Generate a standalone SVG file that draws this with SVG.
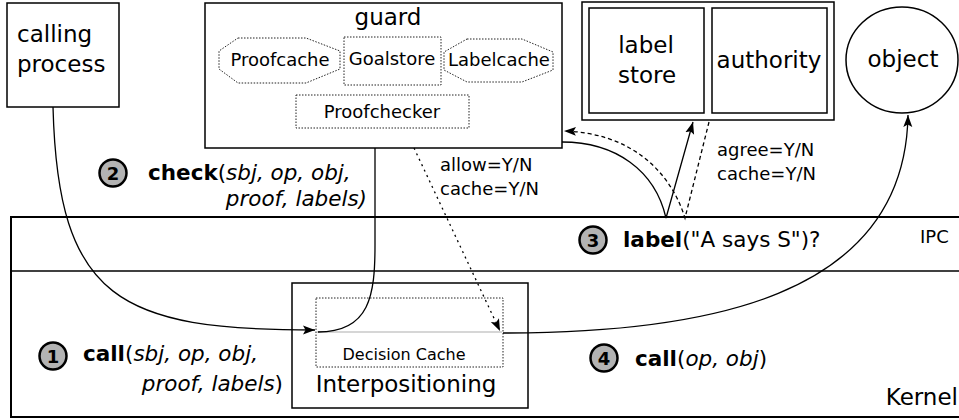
<svg xmlns="http://www.w3.org/2000/svg" width="959" height="420" viewBox="0 0 959 420">
<defs>
<style>
text{font-family:"DejaVu Sans","Liberation Sans",sans-serif;fill:#000}
.box{fill:#fff;stroke:#000;stroke-width:1.5}
.dot{fill:none;stroke:#222;stroke-width:1;stroke-dasharray:1.5,1.5}
.ln{fill:none;stroke:#000;stroke-width:1.3}
.badge{fill:#b3b3b3;stroke:#000;stroke-width:2.5}
.num{font-weight:bold;font-size:18px;text-anchor:middle}
.lbl{font-size:21.5px}
.b{font-weight:bold}
.i{font-style:italic}
.big{font-size:23px}
.mid{font-size:18px}
</style>
<marker id="ah" markerUnits="userSpaceOnUse" markerWidth="14" markerHeight="10" refX="12" refY="5" orient="auto">
<path d="M0,0.5 L12,5 L0,9.5 L2.5,5 Z" fill="#000"/>
</marker>
</defs>

<g id="kernel">
<rect x="11" y="217" width="960" height="200" fill="#fff" stroke="#000" stroke-width="2"/>
<line x1="11" y1="271" x2="959" y2="271" stroke="#000" stroke-width="1.3"/>
<text x="920" y="243" class="mid">IPC</text>
<text x="958" y="405" class="big" text-anchor="end">Kernel</text>
</g>

<g id="calling-process">
<rect x="7" y="3" width="112" height="104" class="box"/>
<text x="17" y="42" class="big">calling</text>
<text x="17" y="72" class="big">process</text>
</g>

<g id="guard">
<rect x="205" y="3" width="357" height="145" class="box"/>
<text x="388" y="25" class="big" text-anchor="middle">guard</text>
<polygon points="238,38 306,38 340,51 340,69 306,83 238,83 219,69 219,51" class="dot"/>
<text x="280" y="66" class="mid" text-anchor="middle">Proofcache</text>
<rect x="344" y="37" width="97" height="48" class="dot"/>
<text x="392" y="65" class="mid" text-anchor="middle">Goalstore</text>
<polygon points="467,39 522,39 553,52 553,70 522,82 467,82 444,70 444,52" class="dot"/>
<text x="499" y="66" class="mid" text-anchor="middle">Labelcache</text>
<rect x="296" y="95" width="173" height="33" class="dot"/>
<text x="382" y="118" class="mid" text-anchor="middle">Proofchecker</text>
</g>

<g id="label-store-authority">
<rect x="582" y="2" width="252" height="118" class="box"/>
<rect x="589" y="8" width="115" height="105" class="box"/>
<rect x="712" y="8" width="115" height="105" class="box"/>
<text x="646" y="53" class="big" text-anchor="middle">label</text>
<text x="647" y="83" class="big" text-anchor="middle">store</text>
<text x="769" y="68" class="big" text-anchor="middle">authority</text>
</g>

<g id="object">
<ellipse cx="902" cy="60" rx="56" ry="53" class="box"/>
<text x="903" y="67" class="big" text-anchor="middle">object</text>
</g>

<g id="interpositioning">
<rect x="292" y="283" width="236" height="125" class="box"/>
<rect x="316" y="298" width="187" height="69" class="dot"/>
<line x1="317" y1="332" x2="502" y2="332" stroke="#c8c8c8" stroke-width="1.5"/>
<text x="404" y="360" font-size="16" text-anchor="middle">Decision Cache</text>
<text x="406" y="392" class="big" text-anchor="middle">Interpositioning</text>
</g>

<g id="connectors">
<path d="M53,107 C58,300 120,330 315,330" class="ln" marker-end="url(#ah)"/>
<path d="M318,332 C370,332 375,295 375,245 L375,148" class="ln"/>
<path d="M414,148 L500,331" class="ln" stroke-dasharray="2,4" marker-end="url(#ah)"/>
<path d="M503,333 C700,333 905,300 908,115" class="ln" marker-end="url(#ah)"/>
<path d="M562,142 C615,142 655,170 666,218 L693,122" class="ln" marker-end="url(#ah)"/>
<path d="M709,122 L685,218 C670,170 630,133 564,131" class="ln" stroke-dasharray="4,3" marker-end="url(#ah)"/>
</g>

<g id="labels">
<text x="440" y="171" class="mid">allow=Y/N</text>
<text x="440" y="195" class="mid">cache=Y/N</text>
<text x="717" y="156" class="mid">agree=Y/N</text>
<text x="717" y="180" class="mid">cache=Y/N</text>

<circle cx="113" cy="173" r="13.5" class="badge"/>
<text x="113" y="180" class="num">2</text>
<text x="148" y="180" class="lbl"><tspan class="b">check</tspan>(<tspan class="i">sbj, op, obj,</tspan></text>
<text x="367" y="206" class="lbl i" text-anchor="end">proof, labels)</text>

<circle cx="53" cy="356" r="13.5" class="badge"/>
<text x="53" y="363" class="num">1</text>
<text x="83" y="361" class="lbl"><tspan class="b">call</tspan>(<tspan class="i">sbj, op, obj,</tspan></text>
<text x="283" y="391" class="lbl" text-anchor="end"><tspan class="i">proof, labels</tspan>)</text>

<circle cx="593" cy="240" r="13.5" class="badge"/>
<text x="593" y="247" class="num">3</text>
<text x="623" y="247" class="lbl"><tspan class="b">label</tspan>("A says S")?</text>

<circle cx="604" cy="358" r="13.5" class="badge"/>
<text x="604" y="365" class="num">4</text>
<text x="635" y="366" class="lbl"><tspan class="b">call</tspan>(<tspan class="i">op, obj</tspan>)</text>
</g>
</svg>
